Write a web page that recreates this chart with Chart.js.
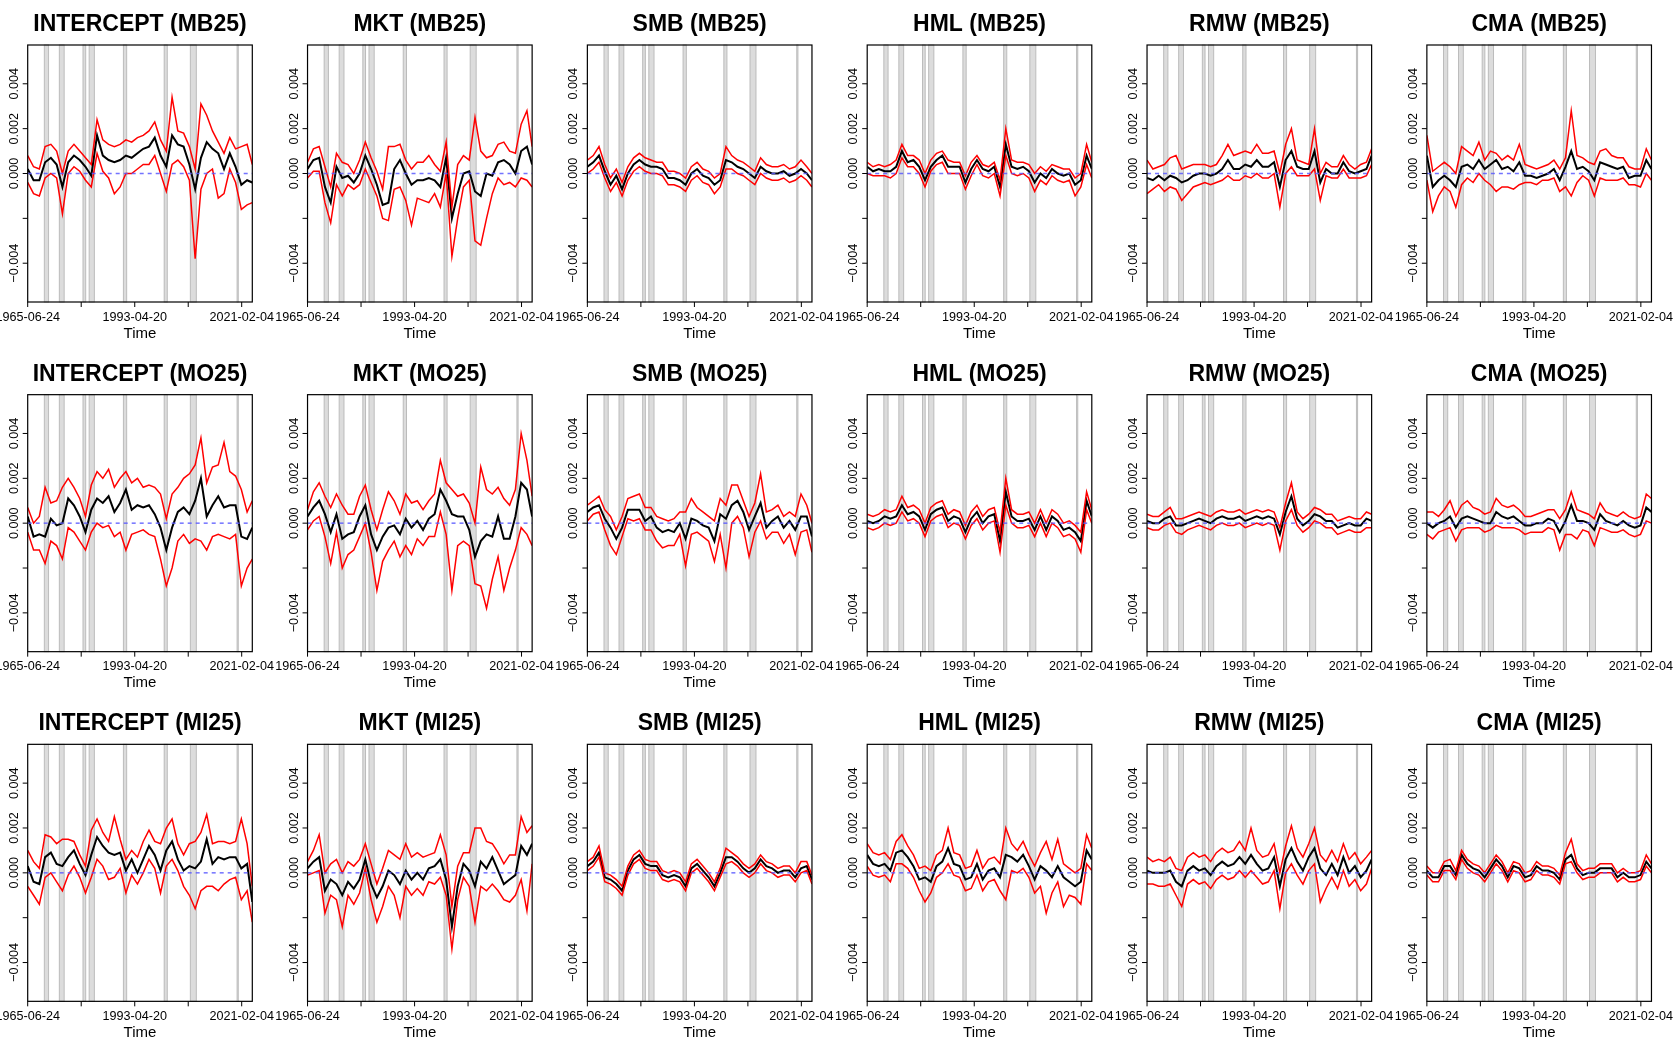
<!DOCTYPE html>
<html>
<head>
<meta charset="utf-8">
<script src="https://cdn.jsdelivr.net/npm/chart.js@4.4.1/dist/chart.umd.min.js"></script>
<style>
  html, body { margin: 0; padding: 0; background: #fff; overflow: hidden; width: 1679px; height: 1049px; position: relative; }
  canvas { position: absolute; }
</style>
</head>
<body>
<script>
// time grid (decimal years) shared by every panel
const years = [1965.48,1967,1968.5,1970,1971.5,1973,1974.5,1976,1977.5,1979,
  1980.5,1982,1983.5,1985,1986.5,1988,1989.5,1991,1992.5,1994,
  1995.5,1997,1998.5,2000,2001.5,2003,2004.5,2006,2007.5,2009,
  2010.5,2012,2013.5,2015,2016.5,2018,2019.5,2021,2022.5,2023.85];

// recession bands
const recStart = [1969.8, 1973.7, 1979.85, 1981.45, 1990.35, 2000.95, 2007.75, 2019.9];
const recEnd   = [1970.9, 1974.95, 1980.55, 1982.8, 1991.2, 2001.75, 2009.3, 2020.2];

// axis ticks (y in units of 0.001)
const xTicks = [1965.477, 1979.385, 1993.299, 2007.196, 2021.093];
const xTickLabels = ["1965-06-24", "", "1993-04-20", "", "2021-02-04"];
const yTicks = [-4, -2, 0, 2, 4];
const yTickLabels = ["\u22120.004", "", "0.000", "0.002", "0.004"];

// estimates (B), upper (U) and lower (L) bands, in units of 0.001
const intMB_B = [0.2,-0.3,-0.3,0.5,0.7,0.4,-0.6,0.5,0.8,0.6, 0.3,-0.1,1.7,0.8,0.6,0.5,0.6,0.8,0.7,0.9, 1.1,1.2,1.6,0.8,0.3,1.7,1.3,1.2,0.4,-0.7, 0.7,1.4,1.1,0.9,0.2,0.9,0.3,-0.5,-0.3,-0.4];
const intMB_U = [0.8,0.3,0.2,1.2,1.3,1.0,0.0,1.0,1.3,1.0, 0.7,0.4,2.4,1.5,1.3,1.2,1.3,1.5,1.4,1.6, 1.7,1.9,2.3,1.5,1.0,3.4,1.9,1.8,1.2,0.2, 3.1,2.6,1.9,1.4,0.9,1.6,1.1,1.2,1.3,0.4];
const intMB_L = [-0.4,-0.9,-1.0,-0.2,0.0,-0.2,-1.8,0.0,0.3,0.1, -0.3,-0.6,0.9,0.1,-0.2,-0.9,-0.6,0.0,0.0,0.2, 0.4,0.4,0.8,0.0,-0.8,0.4,0.6,0.3,-0.3,-3.8, -0.7,0.0,0.2,-1.1,-0.9,0.2,-0.4,-1.6,-1.4,-1.3];

const mktMB_B = [0.2,0.6,0.7,-0.6,-1.3,0.3,-0.2,-0.1,-0.4,0.0, 0.8,0.2,-0.5,-1.4,-1.3,0.2,0.6,0.0,-0.5,-0.3, -0.3,-0.2,-0.3,-0.6,0.7,-2.0,-0.9,0.0,0.1,-0.8, -1.0,0.0,-0.1,0.5,0.6,0.4,0.0,1.0,1.2,0.4];
const mktMB_U = [0.5,1.1,1.2,0.3,-0.6,0.9,0.5,0.4,0.0,0.6, 1.4,0.7,0.1,-0.7,1.2,1.2,1.3,0.6,0.2,0.5, 0.5,0.8,0.4,0.1,1.4,-1.5,0.4,0.8,0.6,2.5, 1.0,0.7,0.8,1.3,1.4,1.0,0.9,2.2,2.8,1.2];
const mktMB_L = [-0.2,0.1,0.1,-1.3,-2.2,-0.5,-1.0,-0.5,-0.7,-0.5, 0.2,-0.4,-1.0,-2.0,-2.1,-0.7,-0.6,-1.2,-2.3,-1.1, -1.2,-1.3,-0.9,-1.5,0.0,-3.7,-2.0,-0.6,-0.3,-3.0, -3.2,-2.0,-0.9,-0.2,-0.5,-0.4,-0.6,-0.2,-0.3,-0.6];

const smbMB_B = [0.3,0.5,0.8,0.1,-0.5,-0.1,-0.7,0.0,0.4,0.6, 0.4,0.3,0.3,0.2,-0.2,-0.2,-0.3,-0.5,0.0,0.2, -0.1,-0.2,-0.5,-0.3,0.6,0.5,0.3,0.2,0.0,-0.2, 0.3,0.1,0.0,0.0,0.1,-0.1,0.0,0.2,0.0,-0.3];
const smbMB_U = [0.6,0.8,1.2,0.4,-0.2,0.2,-0.4,0.3,0.7,0.9, 0.7,0.6,0.5,0.5,0.1,0.1,0.0,-0.2,0.3,0.5, 0.2,0.1,-0.2,0.0,1.2,0.8,0.6,0.5,0.3,0.1, 0.7,0.4,0.3,0.3,0.4,0.2,0.3,0.6,0.3,0.0];
const smbMB_L = [0.0,0.2,0.5,-0.2,-0.8,-0.4,-1.0,-0.3,0.1,0.3, 0.1,0.0,0.0,-0.1,-0.5,-0.5,-0.6,-0.8,-0.3,-0.1, -0.4,-0.5,-0.9,-0.6,0.2,0.2,0.0,-0.1,-0.3,-0.5, 0.0,-0.2,-0.3,-0.3,-0.2,-0.4,-0.3,-0.1,-0.3,-0.6];

const hmlMB_B = [0.3,0.1,0.2,0.1,0.1,0.3,1.0,0.5,0.6,0.3, -0.3,0.3,0.6,0.8,0.3,0.3,0.3,-0.4,0.2,0.6, 0.2,0.1,0.3,-0.6,1.3,0.3,0.2,0.3,0.1,-0.4, 0.0,-0.2,0.2,0.0,-0.1,0.0,-0.5,-0.3,0.8,0.2];
const hmlMB_U = [0.5,0.3,0.4,0.3,0.4,0.6,1.3,0.8,0.8,0.6, 0.0,0.6,0.9,1.0,0.6,0.5,0.5,-0.1,0.5,0.8, 0.4,0.3,0.5,-0.3,2.0,0.6,0.5,0.5,0.4,0.0, 0.3,0.1,0.4,0.3,0.2,0.2,-0.2,0.0,1.3,0.5];
const hmlMB_L = [0.0,-0.1,-0.1,-0.1,-0.2,0.0,0.7,0.3,0.3,0.0, -0.6,0.1,0.4,0.5,0.0,0.0,0.0,-0.7,-0.1,0.4, -0.1,-0.2,0.0,-1.0,0.8,0.0,-0.1,0.0,-0.2,-0.8, -0.3,-0.5,-0.1,-0.3,-0.4,-0.3,-1.0,-0.6,0.4,-0.2];

const rmwMB_B = [-0.2,-0.3,-0.1,-0.3,-0.1,-0.2,-0.4,-0.3,-0.1,0.0, 0.0,-0.1,0.0,0.2,0.6,0.2,0.2,0.4,0.3,0.6, 0.3,0.3,0.5,-0.6,0.6,1.0,0.3,0.2,0.2,1.0, -0.4,0.2,0.0,0.0,0.5,0.1,0.0,0.1,0.2,0.8];
const rmwMB_U = [0.6,0.2,0.3,0.4,0.7,0.8,0.2,0.3,0.4,0.4, 0.4,0.3,0.4,0.8,1.3,0.8,0.9,1.0,0.9,1.3, 0.9,0.9,1.0,0.0,1.3,2.0,0.6,0.5,0.4,2.0, 0.0,0.5,0.3,0.3,0.8,0.4,0.2,0.4,0.5,1.1];
const rmwMB_L = [-0.9,-0.7,-0.5,-0.8,-0.6,-0.7,-1.2,-0.9,-0.6,-0.5, -0.4,-0.5,-0.4,-0.3,-0.1,-0.3,-0.3,-0.1,-0.2,0.0, -0.2,-0.2,0.0,-1.5,0.0,0.3,-0.1,-0.1,-0.1,0.2, -1.2,-0.1,-0.2,-0.2,0.2,-0.2,-0.2,-0.2,-0.1,0.4];

const cmaMB_B = [0.8,-0.6,-0.3,-0.1,-0.3,-0.6,0.3,0.4,0.2,0.6, 0.2,0.4,0.6,0.2,0.3,0.1,0.5,-0.1,-0.1,-0.2, -0.1,0.0,0.2,-0.3,0.3,1.0,0.2,0.3,0.1,-0.3, 0.5,0.4,0.3,0.2,0.3,-0.2,-0.1,-0.1,0.6,0.2];
const cmaMB_U = [1.7,0.1,0.3,0.5,0.3,0.0,1.2,1.0,0.8,1.4, 0.6,1.0,0.9,0.6,0.8,0.6,1.3,0.4,0.3,0.2, 0.3,0.4,0.6,0.2,0.7,2.8,0.8,0.7,0.5,0.4, 1.0,1.1,0.8,0.7,0.7,0.3,0.2,0.2,1.1,0.6];
const cmaMB_L = [-0.3,-1.7,-1.0,-0.6,-0.8,-1.5,-0.5,-0.2,-0.4,0.0, -0.3,-0.5,-0.8,-0.6,-0.6,-0.7,-0.5,-0.4,-0.4,-0.5, -0.3,-0.3,-0.2,-0.8,-0.6,-1.0,-0.4,-0.1,-0.3,-1.0, -0.2,-0.3,-0.3,-0.3,-0.2,-0.5,-0.5,-0.6,0.0,-0.3];

const intMO_B = [0.3,-0.6,-0.5,-0.6,0.2,-0.1,0.0,1.1,0.8,0.3, -0.4,0.6,1.1,0.9,1.2,0.5,0.9,1.5,0.6,0.8, 0.7,0.8,0.4,-0.2,-1.2,-0.2,0.5,0.7,0.4,1.0, 2.0,0.3,0.8,1.2,0.7,0.8,0.8,-0.6,-0.7,-0.2];
const intMO_U = [0.7,0.0,0.3,1.6,0.9,1.0,1.6,2.0,1.6,1.1, 0.3,1.7,2.3,2.0,2.4,1.6,2.0,2.3,1.8,2.0, 1.6,1.7,1.6,1.3,0.2,1.3,1.6,2.0,2.2,2.6, 3.8,1.8,2.5,2.6,3.6,2.3,2.1,1.5,0.5,1.0];
const intMO_L = [-0.4,-1.2,-1.2,-1.8,-0.8,-1.0,-1.6,-0.2,-0.4,-0.8, -1.2,-0.4,0.0,-0.2,-0.1,-0.6,-0.4,-1.2,-0.5,-0.4, -0.3,-0.5,-0.6,-1.6,-2.8,-2.0,-0.8,-0.5,-0.9,-0.7, -0.8,-1.2,-0.6,-0.5,-0.6,-0.7,-0.5,-2.8,-2.0,-1.6];

const mktMO_B = [0.3,0.7,1.0,0.4,-0.4,0.4,-0.7,-0.5,-0.4,0.3, 0.8,-0.5,-1.2,-0.6,-0.2,-0.1,-0.5,0.2,-0.2,0.1, -0.3,0.2,0.4,1.5,1.0,0.4,0.3,0.3,-0.3,-1.5, -0.8,-0.5,-0.6,0.3,-0.7,-0.7,0.3,1.8,1.5,0.3];
const mktMO_U = [0.6,1.4,1.8,1.2,0.7,1.3,0.8,0.4,0.4,1.2, 1.7,0.6,-0.3,0.6,1.4,1.0,0.4,1.3,0.9,1.0, 0.6,1.0,1.3,2.8,1.8,1.5,1.2,1.3,0.9,0.0, 2.5,1.5,1.3,1.6,1.1,0.8,1.5,4.0,2.8,1.2];
const mktMO_L = [-0.3,0.1,0.3,-0.6,-1.8,-0.4,-2.0,-1.4,-1.2,-0.6, 0.0,-1.3,-3.0,-1.7,-1.2,-0.8,-1.5,-1.0,-1.4,-0.7, -1.0,-0.6,-0.6,0.5,-0.5,-3.0,-1.0,-0.8,-1.0,-2.7, -2.8,-3.8,-2.5,-1.5,-3.0,-2.0,-1.2,-0.2,-0.5,-1.0];

const smbMO_B = [0.5,0.7,0.8,0.2,-0.2,-0.7,-0.2,0.6,0.6,0.6, 0.1,0.3,-0.2,-0.4,-0.3,-0.4,0.0,-0.7,0.2,0.1, -0.1,-0.2,-0.8,0.4,0.2,0.8,1.0,0.5,-0.3,0.3, 0.9,-0.2,0.1,0.3,-0.2,0.1,-0.3,0.3,0.3,-0.6];
const smbMO_U = [0.8,1.0,1.2,0.6,0.3,-0.3,0.3,1.1,1.2,1.3, 0.7,0.7,0.3,0.2,0.1,0.2,0.5,0.5,1.1,0.7, 0.5,0.3,0.1,1.1,0.8,1.7,1.7,1.0,0.3,0.9, 2.2,0.5,0.6,0.8,0.3,0.5,0.3,1.3,0.8,0.0];
const smbMO_L = [0.1,0.4,0.5,-0.3,-1.0,-1.4,-0.6,0.2,0.1,0.2, -0.3,-0.3,-0.8,-1.1,-1.0,-1.0,-0.5,-1.9,-0.5,-0.4, -0.6,-0.8,-1.7,-0.5,-2.0,0.0,0.3,-0.2,-1.5,-0.4, 0.1,-0.7,-0.4,-0.4,-0.9,-0.5,-1.4,-0.4,-0.3,-1.3];

const hmlMO_B = [0.1,0.0,0.1,0.3,0.2,0.3,0.8,0.4,0.5,0.3, -0.3,0.4,0.6,0.7,0.1,0.3,0.2,-0.4,0.2,0.5, 0.0,0.3,0.4,-0.8,1.4,0.3,0.1,0.1,0.2,-0.3, 0.3,-0.3,0.3,0.1,-0.3,-0.2,-0.4,-0.8,1.0,0.3];
const hmlMO_U = [0.4,0.3,0.4,0.6,0.5,0.6,1.2,0.7,0.8,0.6, 0.0,0.7,0.9,1.0,0.4,0.6,0.5,-0.1,0.5,0.8, 0.3,0.6,0.7,-0.4,2.0,0.6,0.4,0.4,0.5,0.0, 0.6,0.0,0.6,0.4,0.0,0.1,-0.1,-0.4,1.4,0.6];
const hmlMO_L = [-0.2,-0.3,-0.2,0.0,-0.1,0.0,0.5,0.1,0.2,0.0, -0.6,0.1,0.3,0.4,-0.2,0.0,-0.1,-0.7,-0.1,0.2, -0.3,0.0,0.1,-1.3,0.8,0.0,-0.2,-0.2,-0.1,-0.6, 0.0,-0.6,0.0,-0.2,-0.6,-0.5,-0.7,-1.3,0.6,0.0];

const rmwMO_B = [0.1,0.0,0.0,0.2,0.3,-0.1,-0.1,0.0,0.1,0.2, 0.1,0.0,0.2,0.3,0.2,0.2,0.3,0.1,0.2,0.3, 0.2,0.3,0.2,-0.5,0.5,1.2,0.2,-0.1,0.1,0.4, 0.3,0.1,0.1,-0.2,-0.1,0.0,-0.1,-0.1,0.2,0.1];
const rmwMO_U = [0.4,0.3,0.3,0.5,0.7,0.2,0.2,0.3,0.4,0.5, 0.4,0.3,0.5,0.6,0.5,0.5,0.6,0.4,0.5,0.6, 0.5,0.6,0.5,-0.2,0.9,1.8,0.5,0.2,0.4,0.7, 0.6,0.4,0.4,0.1,0.2,0.3,0.2,0.2,0.5,0.4];
const rmwMO_L = [-0.2,-0.3,-0.3,-0.1,0.0,-0.4,-0.5,-0.3,-0.2,-0.1, -0.2,-0.3,-0.1,0.0,-0.1,-0.1,0.0,-0.2,-0.1,0.0, -0.1,0.0,-0.1,-1.2,0.1,0.6,-0.1,-0.4,-0.2,0.1, 0.0,-0.2,-0.2,-0.5,-0.4,-0.3,-0.4,-0.4,-0.2,-0.2];

const cmaMO_B = [0.0,-0.2,0.0,0.1,0.3,-0.2,0.2,0.3,0.2,0.1, 0.0,0.0,0.5,0.3,0.2,0.3,0.1,-0.1,-0.1,0.0, 0.0,0.2,0.1,-0.4,0.1,0.8,0.1,0.1,0.0,-0.3, 0.4,0.1,0.0,-0.1,0.1,-0.1,-0.2,-0.1,0.7,0.5];
const cmaMO_U = [0.5,0.5,0.3,0.6,1.0,0.3,0.8,1.0,0.7,0.6, 0.4,0.5,1.1,0.8,0.7,0.8,0.6,0.3,0.3,0.4, 0.5,0.6,0.6,0.2,0.6,1.4,0.6,0.5,0.4,0.2, 0.9,0.5,0.4,0.3,0.5,0.3,0.2,0.3,1.3,1.1];
const cmaMO_L = [-0.5,-0.7,-0.4,-0.3,-0.2,-0.8,-0.3,-0.2,-0.2,-0.2, -0.4,-0.3,-0.1,-0.2,-0.2,-0.2,-0.3,-0.5,-0.4,-0.4, -0.4,-0.2,-0.3,-1.2,-0.5,-0.5,-0.7,-0.3,-0.4,-1.0, -0.2,-0.3,-0.4,-0.4,-0.3,-0.5,-0.6,-0.5,0.1,0.0];

const intMI_B = [0.3,-0.4,-0.5,0.7,0.9,0.4,0.3,0.7,1.0,0.4, -0.1,0.8,1.6,1.2,0.9,0.8,0.9,0.1,0.6,0.0, 0.6,1.2,0.8,0.1,1.0,1.4,0.6,0.1,0.3,0.2, 0.5,1.5,0.4,0.7,0.6,0.7,0.7,0.2,0.4,-1.3];
const intMI_U = [1.0,0.5,0.2,1.7,1.6,1.3,1.5,1.5,1.4,0.8, 0.3,1.9,2.4,1.8,1.4,2.5,1.5,0.6,1.0,0.7, 1.4,1.9,1.4,1.3,2.0,2.4,1.3,0.8,1.3,1.4, 1.8,2.6,1.3,1.4,1.4,1.3,1.4,2.4,1.3,-0.6];
const intMI_L = [-0.6,-1.0,-1.4,-0.2,0.0,-0.4,-0.8,-0.1,0.3,-0.2, -0.9,-0.2,0.6,0.3,-0.3,-0.2,0.2,-0.9,-0.1,-0.5, 0.0,0.6,0.2,-0.9,0.3,0.6,0.1,-0.6,-1.0,-1.6, -0.8,-0.6,-0.6,-0.8,-0.5,-0.3,-0.2,-1.2,-0.8,-2.2];

const mktMI_B = [0.2,0.5,0.7,-0.8,-0.3,-0.5,-1.0,-0.4,-0.7,-0.3, 0.6,-0.5,-1.1,-0.6,0.1,-0.1,-0.5,0.1,-0.3,0.0, -0.3,0.2,0.3,0.6,-0.3,-2.4,-0.6,0.4,0.1,-0.6, 0.5,0.2,0.7,0.1,-0.5,-0.3,-0.1,1.2,0.8,1.3];
const mktMI_U = [0.5,1.0,1.7,0.0,0.4,0.6,0.0,0.5,0.3,0.6, 1.3,0.4,-0.5,0.2,1.0,0.8,0.6,1.3,0.7,0.9, 0.7,0.8,0.9,1.7,0.8,-1.5,0.3,0.9,0.9,2.0, 2.0,1.4,1.3,0.9,0.4,0.8,0.8,2.5,1.8,2.1];
const mktMI_L = [-0.1,0.0,0.1,-1.8,-1.0,-1.2,-2.4,-1.0,-1.4,-0.9, 0.2,-1.2,-2.2,-1.5,-0.6,-1.0,-2.0,-0.6,-1.0,-0.7, -1.0,-0.4,-0.5,-0.2,-1.0,-3.4,-1.2,-0.2,-0.6,-2.2, -0.6,-0.8,-0.5,-0.8,-1.2,-1.3,-1.0,-0.3,-1.7,0.4];

const smbMI_B = [0.3,0.5,0.9,-0.2,-0.3,-0.5,-0.8,0.1,0.6,0.8, 0.4,0.3,0.3,-0.1,-0.2,-0.1,-0.2,-0.6,0.2,0.4, 0.1,-0.2,-0.6,0.0,0.7,0.7,0.5,0.2,0.0,0.2, 0.6,0.3,0.2,0.0,0.1,0.1,-0.2,0.2,0.3,-0.3];
const smbMI_U = [0.5,0.7,1.2,0.0,-0.1,-0.3,-0.6,0.3,0.8,1.0, 0.6,0.5,0.5,0.1,0.0,0.1,0.0,-0.4,0.4,0.6, 0.3,0.0,-0.4,0.2,1.1,0.9,0.7,0.4,0.2,0.4, 0.8,0.5,0.4,0.2,0.3,0.3,0.0,0.5,0.5,-0.1];
const smbMI_L = [0.1,0.3,0.7,-0.4,-0.5,-0.7,-1.0,-0.1,0.4,0.6, 0.2,0.1,0.1,-0.3,-0.4,-0.3,-0.4,-0.8,0.0,0.2, -0.1,-0.4,-0.8,-0.2,0.4,0.5,0.3,0.0,-0.2,0.0, 0.4,0.1,0.0,-0.2,-0.1,-0.1,-0.4,0.0,0.1,-0.5];

const hmlMI_B = [0.8,0.4,0.3,0.4,0.1,0.9,1.0,0.7,0.3,-0.3, -0.2,-0.4,0.3,0.5,1.1,0.4,0.3,-0.3,-0.2,0.4, -0.3,0.1,0.2,-0.2,0.8,0.7,0.5,0.8,0.3,-0.3, 0.3,0.1,-0.2,0.3,-0.2,-0.4,-0.6,-0.4,1.0,0.6];
const hmlMI_U = [1.3,0.9,0.8,0.9,0.6,1.4,1.7,1.2,0.8,0.2, 0.3,0.1,0.8,1.0,2.0,0.9,0.8,0.2,0.3,1.0, 0.2,0.6,0.7,0.4,2.0,1.3,1.0,1.4,0.8,0.3, 0.9,1.4,0.6,1.5,0.4,0.2,0.0,0.2,1.7,1.1];
const hmlMI_L = [0.3,-0.1,-0.2,-0.1,-0.4,0.4,0.4,0.2,-0.2,-0.8, -1.3,-0.9,-0.2,0.0,0.4,-0.1,-0.2,-0.8,-0.7,-0.1, -0.8,-0.4,-0.3,-0.8,-1.2,0.1,0.0,0.2,-0.2,-0.9, -0.6,-1.8,-0.9,-0.4,-1.5,-1.0,-1.1,-1.4,0.4,0.1];

const rmwMI_B = [0.1,0.0,0.0,0.0,0.1,-0.4,-0.6,0.1,0.3,0.1, 0.2,-0.1,0.3,0.5,0.3,0.4,0.7,0.4,0.8,0.4, 0.1,0.2,0.7,-0.6,0.6,1.1,0.5,0.1,0.7,1.1, 0.2,-0.1,0.4,-0.1,0.7,0.0,0.3,-0.2,0.1,0.6];
const rmwMI_U = [0.7,0.5,0.6,0.5,0.7,0.2,0.1,0.7,0.9,0.7, 0.8,0.5,0.9,1.1,0.9,1.0,1.4,1.0,2.0,1.0, 0.7,0.8,1.3,0.0,1.2,2.1,1.1,0.7,1.3,2.0, 0.8,0.5,1.0,0.5,1.3,0.6,0.9,0.4,0.7,1.0];
const rmwMI_L = [-0.5,-0.5,-0.6,-0.6,-0.5,-1.0,-1.5,-0.5,-0.3,-0.5, -0.4,-0.7,-0.3,-0.1,-0.3,-0.2,0.1,-0.2,0.1,-0.2, -0.5,-0.4,0.1,-1.6,0.0,0.4,-0.1,-0.5,0.1,0.4, -1.3,-0.7,-0.2,-0.7,0.1,-0.6,-0.3,-0.8,-0.5,0.2];

const cmaMI_B = [0.1,-0.2,-0.2,0.3,0.3,-0.1,0.8,0.4,0.2,0.1, -0.2,0.2,0.6,0.3,-0.2,0.3,0.2,-0.2,-0.1,0.3, 0.1,0.1,0.0,-0.3,0.6,0.8,0.2,-0.1,0.0,0.0, 0.2,0.2,0.2,-0.2,0.0,-0.2,-0.2,-0.1,0.5,0.2];
const cmaMI_U = [0.3,0.0,0.0,0.5,0.6,0.1,1.0,0.6,0.4,0.3, 0.0,0.4,0.8,0.5,0.0,0.5,0.4,0.0,0.1,0.5, 0.3,0.3,0.2,-0.1,0.9,1.5,0.4,0.1,0.2,0.2, 0.4,0.4,0.4,0.0,0.2,0.0,0.0,0.1,0.8,0.4];
const cmaMI_L = [-0.1,-0.4,-0.4,0.1,0.1,-0.3,0.6,0.2,0.0,-0.1, -0.4,0.0,0.4,0.1,-0.4,0.1,0.0,-0.4,-0.3,0.1, -0.1,-0.1,-0.2,-0.5,0.4,0.5,0.0,-0.3,-0.2,-0.2, 0.0,0.0,0.0,-0.4,-0.2,-0.4,-0.4,-0.3,0.3,0.0];

const panels = [
  ["INTERCEPT (MB25)", intMB_B, intMB_U, intMB_L],
  ["MKT (MB25)", mktMB_B, mktMB_U, mktMB_L],
  ["SMB (MB25)", smbMB_B, smbMB_U, smbMB_L],
  ["HML (MB25)", hmlMB_B, hmlMB_U, hmlMB_L],
  ["RMW (MB25)", rmwMB_B, rmwMB_U, rmwMB_L],
  ["CMA (MB25)", cmaMB_B, cmaMB_U, cmaMB_L],
  ["INTERCEPT (MO25)", intMO_B, intMO_U, intMO_L],
  ["MKT (MO25)", mktMO_B, mktMO_U, mktMO_L],
  ["SMB (MO25)", smbMO_B, smbMO_U, smbMO_L],
  ["HML (MO25)", hmlMO_B, hmlMO_U, hmlMO_L],
  ["RMW (MO25)", rmwMO_B, rmwMO_U, rmwMO_L],
  ["CMA (MO25)", cmaMO_B, cmaMO_U, cmaMO_L],
  ["INTERCEPT (MI25)", intMI_B, intMI_U, intMI_L],
  ["MKT (MI25)", mktMI_B, mktMI_U, mktMI_L],
  ["SMB (MI25)", smbMI_B, smbMI_U, smbMI_L],
  ["HML (MI25)", hmlMI_B, hmlMI_U, hmlMI_L],
  ["RMW (MI25)", rmwMI_B, rmwMI_U, rmwMI_L],
  ["CMA (MI25)", cmaMI_B, cmaMI_U, cmaMI_L]
];

const FONT = "'Liberation Sans', Arial, Helvetica, sans-serif";

// recession bands, zero line, frame, ticks and titles (R base-graphics look)
const frame = {
  id: "frame",
  beforeDatasetsDraw(chart) {
    const { ctx, chartArea: a, scales: { x } } = chart;
    ctx.save();
    ctx.fillStyle = "#dcdcdc";
    ctx.strokeStyle = "#bcbcbc";
    ctx.lineWidth = 1;
    for (let i = 0; i < recStart.length; i++) {
      const x0 = x.getPixelForValue(recStart[i]);
      const x1 = x.getPixelForValue(recEnd[i]);
      ctx.fillRect(x0, a.top, x1 - x0, a.bottom - a.top);
      ctx.strokeRect(x0, a.top, x1 - x0, a.bottom - a.top);
    }
    ctx.restore();
  },
  afterDatasetsDraw(chart, args, opts) {
    const { ctx, chartArea: a, scales: { x, y } } = chart;
    ctx.save();

    // dashed zero line
    const y0 = y.getPixelForValue(0);
    ctx.strokeStyle = "rgba(90,90,255,0.85)";
    ctx.lineWidth = 1.5;
    ctx.setLineDash([4, 4]);
    ctx.beginPath();
    ctx.moveTo(a.left, y0);
    ctx.lineTo(a.right, y0);
    ctx.stroke();
    ctx.setLineDash([]);

    // box
    ctx.strokeStyle = "#000";
    ctx.lineWidth = 1.2;
    ctx.strokeRect(a.left, a.top, a.right - a.left, a.bottom - a.top);

    // x ticks
    ctx.fillStyle = "#000";
    ctx.font = "12.6px " + FONT;
    ctx.textAlign = "center";
    ctx.textBaseline = "alphabetic";
    ctx.lineWidth = 1;
    xTicks.forEach((t, i) => {
      const px = x.getPixelForValue(t);
      ctx.beginPath();
      ctx.moveTo(px, a.bottom);
      ctx.lineTo(px, a.bottom + 5);
      ctx.stroke();
      if (xTickLabels[i]) ctx.fillText(xTickLabels[i], px, a.bottom + 18.5);
    });

    // y ticks, labels rotated like R's las = 0
    yTicks.forEach((t, i) => {
      const py = y.getPixelForValue(t);
      ctx.beginPath();
      ctx.moveTo(a.left, py);
      ctx.lineTo(a.left - 5, py);
      ctx.stroke();
      if (yTickLabels[i]) {
        ctx.save();
        ctx.translate(a.left - 10, py);
        ctx.rotate(-Math.PI / 2);
        ctx.fillText(yTickLabels[i], 0, 0);
        ctx.restore();
      }
    });

    const cx = (a.left + a.right) / 2;
    ctx.font = "15px " + FONT;
    ctx.fillText("Time", cx, a.bottom + 35.5);

    ctx.font = "bold 23px " + FONT;
    ctx.fillText(opts.title, cx, a.top - 14);
    ctx.restore();
  }
};

const CW = 1679 / 6, CH = 1049 / 3;
const canvasW = 328, canvasH = 350;

panels.forEach((p, k) => {
  const [title, est, hi, lo] = p;
  const r = Math.floor(k / 6), c = k % 6;
  const cellX = c * CW, cellY = r * CH;
  const left = Math.round(cellX) - 24, top = Math.round(cellY);

  const cv = document.createElement("canvas");
  cv.width = canvasW;
  cv.height = canvasH;
  cv.style.left = left + "px";
  cv.style.top = top + "px";
  document.body.appendChild(cv);

  const pts = arr => years.map((t, i) => ({ x: t, y: arr[i] }));

  new Chart(cv, {
    type: "line",
    data: {
      datasets: [
        { data: pts(hi), borderColor: "#ff0000", borderWidth: 1.5 },
        { data: pts(lo), borderColor: "#ff0000", borderWidth: 1.5 },
        { data: pts(est), borderColor: "#000000", borderWidth: 2 }
      ]
    },
    options: {
      responsive: false,
      animation: false,
      events: [],
      layout: {
        padding: {
          left: cellX + 27.7 - left,
          right: left + canvasW - (cellX + 252.3),
          top: cellY + 45 - top,
          bottom: top + canvasH - (cellY + 302)
        }
      },
      elements: { point: { radius: 0 }, line: { tension: 0 } },
      plugins: {
        legend: { display: false },
        tooltip: { enabled: false },
        frame: { title: title }
      },
      scales: {
        x: { type: "linear", min: 1965.477, max: 2023.85, display: false },
        y: { min: -5.73, max: 5.73, display: false }
      }
    },
    plugins: [frame]
  });
});
</script>
</body>
</html>
